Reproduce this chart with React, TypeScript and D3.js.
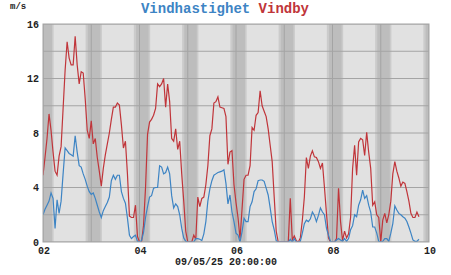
import React from "react";
import * as d3 from "d3";

// Hourly values starting 02/05/25 00:00
const gustValues: number[] = [
  4.9, 6.2, 7.6, 9.4, 8.2, 6.6, 5.2, 4.9, 6.3, 7.0, 9.8, 12.6, 14.7, 13.5, 13.0, 13.0, 15.1, 13.0, 11.6, 12.5, 12.4, 10.5, 8.2, 7.6,
  8.9, 7.2, 7.6, 6.2, 5.2, 4.1, 5.4, 6.4, 7.2, 8.0, 9.0, 9.9, 9.9, 10.2, 10.05, 8.6, 6.9, 7.4, 5.0, 1.9, 1.8, 1.8, 2.7, 0.4,
  0, 0, 1.2, 4.0, 7.9, 8.8, 9.0, 9.3, 9.8, 11.6, 11.4, 11.6, 12.0, 9.9, 11.6, 10.3, 7.6, 7.4, 8.3, 6.8, 7.4, 5.0, 3.0, 0.8,
  0, 0, 0, 0.5, 0.2, 3.3, 2.6, 3.2, 3.3, 4.2, 5.6, 7.8, 8.3, 10.2, 10.3, 10.65, 9.9, 9.85, 9.8, 9.2, 5.7, 6.6, 6.7, 4.2,
  2.9, 1.8, 0.25, 2.4, 4.6, 4.9, 4.9, 5.6, 8.4, 8.2, 9.3, 9.5, 11.1, 10.0, 9.6, 9.2, 8.3, 7.1, 5.9, 3.3, 0.8, 0, 0, 0,
  0, 0, 0, 3.2, 0.15, 0.45, 0.1, 0, 0.3, 1.6, 3.3, 6.2, 5.4, 6.3, 6.7, 6.25, 6.2, 5.9, 5.4, 5.8, 4.0, 2.1, 0.3, 0,
  0, 0, 0.25, 3.95, 1.5, 0.1, 0.8, 0.3, 0.6, 1.8, 5.4, 7.1, 4.9, 7.35, 7.6, 7.5, 6.35, 8.05, 6.6, 5.4, 2.7, 2.95, 2.0, 1.8,
  0, 1.6, 2.1, 1.4, 2.0, 3.0, 5.0, 5.9, 5.2, 4.7, 4.1, 4.4, 4.3, 3.7, 3.0, 2.1, 1.8, 1.8, 2.2, 1.85,
];

const speedValues: number[] = [
  2.0, 2.4, 2.7, 3.0, 3.6, 3.2, 1.0, 3.1, 2.1, 3.0, 5.0, 6.9, 6.7, 6.5, 6.4, 6.3, 7.8, 6.6, 5.6, 5.5, 5.0, 4.6, 4.1, 3.7,
  3.5, 3.6, 3.2, 2.7, 2.2, 1.8, 2.3, 2.6, 2.9, 3.3, 4.5, 4.9, 4.6, 4.9, 4.9, 3.7, 3.2, 2.85, 1.75, 0.5, 0.25, 0.4, 0.5, 0.05,
  0, 0.1, 0.7, 1.8, 2.6, 3.3, 3.4, 3.95, 4.0, 4.0, 5.6, 5.5, 5.0, 5.1, 5.5, 5.0, 3.4, 2.5, 2.8, 2.6, 2.0, 1.0, 0.3, 0.05,
  0, 0, 0, 0, 0.25, 0.25, 0.2, 0.1, 0.6, 1.5, 3.0, 3.9, 4.5, 4.9, 5.0, 5.1, 5.15, 5.2, 5.3, 4.3, 2.8, 3.45, 2.2, 1.5,
  0.65, 0.5, 0, 0.75, 1.75, 1.5, 1.5, 2.6, 2.95, 3.7, 3.9, 4.5, 4.55, 4.55, 4.45, 3.95, 3.45, 2.5, 1.5, 0.9, 0.1, 0, 0, 0,
  0, 0, 0, 0.2, 0, 0.25, 0, 0, 0.05, 0.65, 1.35, 1.6, 1.5, 1.7, 2.2, 1.95, 1.5, 1.95, 2.5, 2.2, 2.0, 1.0, 0.5, 0.05,
  0, 0, 0.15, 0.25, 0.15, 0.05, 0.25, 0.05, 0.25, 0.9, 1.2, 2.0, 1.85, 2.7, 3.1, 3.8, 3.2, 3.4, 2.7, 2.2, 1.1, 1.1, 0.65, 0.05,
  0, 0.05, 0.25, 0.25, 0.05, 0.65, 1.35, 2.65, 2.35, 2.1, 2.0, 1.85, 1.75, 1.5, 1.1, 0.65, 0.15, 0.05, 0.05, 0.2,
];

const yTickValues = [0, 4, 8, 12, 16];
const yGridValues = [0, 2, 4, 6, 8, 10, 12, 14, 16];
const xTickDays = [2, 4, 6, 8, 10];
const gridDays = [2, 3, 4, 5, 6, 7, 8, 9, 10];
const nightDays = [1, 2, 3, 4, 5, 6, 7, 8, 9];
const duskHour = 21.2;
const darkHour = 22.3;
const dawnDarkHour = 4.5;
const dawnHour = 5.3;

const titleSpeed = "Vindhastighet";
const titleGust = "Vindby";
const unitLabel = "m/s";
const timeLabel = "09/05/25 20:00:00";

const W = 451;
const H = 275;
const M = { left: 43, right: 429, top: 24, bottom: 242 };

const start = new Date(2025, 4, 2, 0, 0, 0);
const hourDate = (h: number) => new Date(start.getTime() + h * 3600 * 1000);
const dayDate = (d: number, h = 0) => new Date(2025, 4, d, h, 0, 0);

export default function App() {
  const x = d3.scaleTime().domain([dayDate(2), dayDate(10)]).range([M.left, M.right]);
  const y = d3.scaleLinear().domain([0, 16]).range([M.bottom, M.top]);

  const line = d3
    .line<number>()
    .x((_, i) => x(hourDate(i)))
    .y((v) => y(v));

  const mono = "'Liberation Mono', 'DejaVu Sans Mono', monospace";
  const speedColor = "#3d84c4";
  const gustColor = "#c0353a";

  return (
    <svg
      width={W}
      height={H}
      style={{ position: "absolute", left: 0, top: 0, background: "#fff" }}
      fontFamily={mono}
    >
      <defs>
        <clipPath id="plot">
          <rect x={M.left} y={M.top} width={M.right - M.left} height={M.bottom - M.top} />
        </clipPath>
      </defs>
      <rect x={M.left} y={M.top} width={M.right - M.left} height={M.bottom - M.top} fill="#e1e1e1" />
      <g clipPath="url(#plot)">
        {nightDays.map((d) => {
          const x0 = x(dayDate(d, 0).getTime() + duskHour * 3600e3);
          const x1 = x(dayDate(d + 1, 0).getTime() + dawnHour * 3600e3);
          const xd0 = x(dayDate(d, 0).getTime() + darkHour * 3600e3);
          const xd1 = x(dayDate(d + 1, 0).getTime() + dawnDarkHour * 3600e3);
          return (
            <g key={d}>
              <rect x={x0} y={M.top} width={x1 - x0} height={M.bottom - M.top} fill="#cbcbcb" />
              <rect x={xd0} y={M.top} width={xd1 - xd0} height={M.bottom - M.top} fill="#bdbdbd" />
            </g>
          );
        })}
        {yGridValues.map((v) => (
          <line key={v} x1={M.left} x2={M.right} y1={y(v)} y2={y(v)} stroke="#a4a4a4" strokeWidth={1} />
        ))}
        {gridDays.map((d) => (
          <line key={d} x1={x(dayDate(d))} x2={x(dayDate(d))} y1={M.top} y2={M.bottom} stroke="#a4a4a4" strokeWidth={1} />
        ))}
        <path d={line(gustValues) || ""} fill="none" stroke={gustColor} strokeWidth={1.2} />
        <path d={line(speedValues) || ""} fill="none" stroke={speedColor} strokeWidth={1.2} />
      </g>
      <rect
        x={M.left}
        y={M.top}
        width={M.right - M.left}
        height={M.bottom - M.top}
        fill="none"
        stroke="#a4a4a4"
        strokeWidth={1}
      />
      {yTickValues.map((v) => (
        <text key={v} x={39} y={y(v) + 3.5} textAnchor="end" fontSize={10} fontWeight="bold" fill="#222">
          {v}
        </text>
      ))}
      {xTickDays.map((d) => (
        <text key={d} x={x(dayDate(d)) + 1} y={254} textAnchor="middle" fontSize={10} fontWeight="bold" fill="#222">
          {d3.timeFormat("%d")(dayDate(d))}
        </text>
      ))}
      <text x={10} y={9} fontSize={9} fontWeight="bold" fill="#222">
        {unitLabel}
      </text>
      <text x={225} y={13} textAnchor="middle" fontSize={14} fontWeight="bold">
        <tspan fill={speedColor}>{titleSpeed}</tspan>
        <tspan fill={gustColor}> {titleGust}</tspan>
      </text>
      <text x={226} y={265} textAnchor="middle" fontSize={10} fontWeight="bold" fill="#222">
        {timeLabel}
      </text>
    </svg>
  );
}
